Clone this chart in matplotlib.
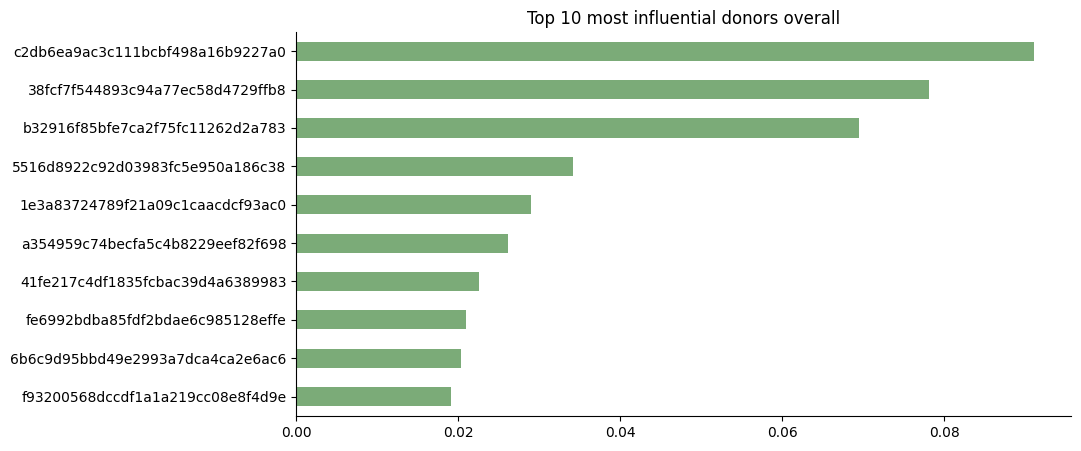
# Top 10 most influential donors, horizontal bar chart
import matplotlib
matplotlib.use("Agg")
import matplotlib.pyplot as plt

donors = ["c2db6ea9ac3c111bcbf498a16b9227a0", "38fcf7f544893c94a77ec58d4729ffb8",
          "b32916f85bfe7ca2f75fc11262d2a783", "5516d8922c92d03983fc5e950a186c38",
          "1e3a83724789f21a09c1caacdcf93ac0", "a354959c74becfa5c4b8229eef82f698",
          "41fe217c4df1835fcbac39d4a6389983", "fe6992bdba85fdf2bdae6c985128effe",
          "6b6c9d95bbd49e2993a7dca4ca2e6ac6", "f93200568dccdf1a1a219cc08e8f4d9e"]
influence = [0.0911, 0.0781, 0.0695, 0.0342, 0.0290, 0.0262, 0.0226, 0.0210, 0.0204, 0.0191]

fig, ax = plt.subplots(figsize=(10.81, 4.51), dpi=100)
fig.subplots_adjust(left=0.274, right=0.991, top=0.929, bottom=0.078)

# reversed so the biggest one sits on top
ax.barh(donors[::-1], influence[::-1], height=0.5, color='#7bab78')
ax.set_ylim(-0.5, len(donors) - 0.5)
ax.set_title("Top 10 most influential donors overall")
ax.spines['top'].set_visible(False)
ax.spines['right'].set_visible(False)

plt.savefig("out.png")
